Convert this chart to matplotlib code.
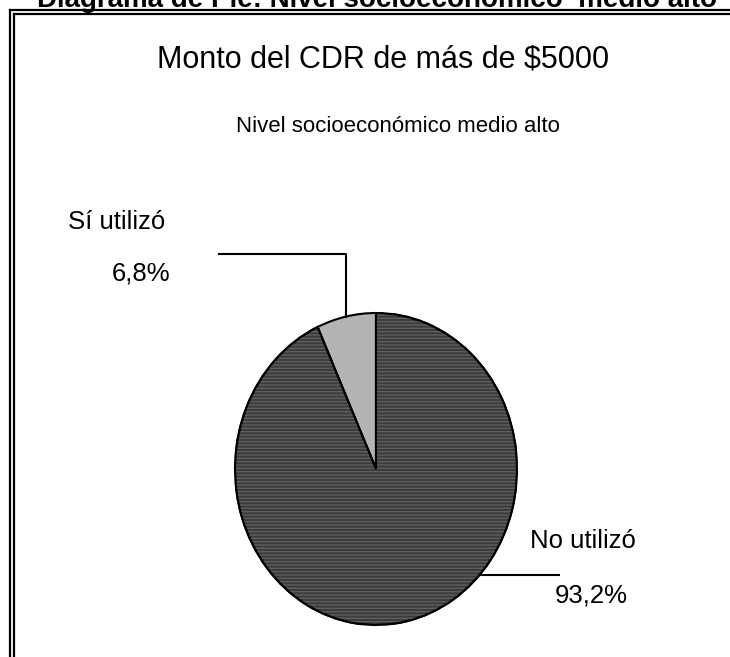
import numpy as np
import matplotlib
matplotlib.use('Agg')
import matplotlib.pyplot as plt
from matplotlib.patches import Wedge
from matplotlib.lines import Line2D

plt.rcParams['font.family'] = ['Liberation Sans', 'DejaVu Sans']
plt.rcParams['hatch.linewidth'] = 1.0

# data
categories = ['Sí utilizó', 'No utilizó']
values = [6.8, 93.2]
value_labels = ['6,8%', '93,2%']
colors = ['#b4b4b4', '#3c3c3c']

heading = 'Diagrama de Pie: Nivel socioeconómico  medio alto'
title = 'Monto del CDR de más de $5000'
subtitle = 'Nivel socioeconómico medio alto'

W, H = 730, 657
fig = plt.figure(figsize=(W / 100, H / 100), dpi=100)


def px(x, y):
    # pixel (from top-left) -> figure fraction
    return x / W, 1 - y / H


# double frame (left + top edges, rest is cut off)
for off in (10, 14):
    fig.add_artist(Line2D([px(off, 0)[0], px(off, 0)[0]], [px(0, off)[1], 0],
                          color='black', lw=1.6, transform=fig.transFigure))
    fig.add_artist(Line2D([px(off, 0)[0], 1], [px(0, off)[1], px(0, off)[1]],
                          color='black', lw=1.6, transform=fig.transFigure))

fig.text(*px(377, 7), heading, ha='center', va='baseline', fontsize=20, fontweight='bold')
fig.text(*px(383, 67), title, ha='center', va='baseline', fontsize=22)
fig.text(*px(398, 132), subtitle, ha='center', va='baseline', fontsize=16)

# pie axes (stretched a bit vertically, like the original)
ax = fig.add_axes([235 / W, 32 / H, 282 / W, 312 / H])
wedges, _ = ax.pie(values, colors=colors, startangle=90, counterclock=True,
                   wedgeprops=dict(edgecolor='black', linewidth=1.5))
# stripe texture on the dark slice
big = wedges[1]
ax.add_patch(Wedge(big.center, big.r, big.theta1, big.theta2, facecolor='none',
                   edgecolor='#5e5e5e', lw=0, hatch='-----'))
ax.add_patch(Wedge(big.center, big.r, big.theta1, big.theta2, facecolor='none',
                   edgecolor='black', lw=1.5))
ax.set_aspect('auto')
ax.set_xlim(-1, 1)
ax.set_ylim(-1, 1)
ax.axis('off')

# leader lines
w = wedges[0]
mid = np.deg2rad((w.theta1 + w.theta2) / 2)
ax.plot([np.cos(mid), np.cos(mid), -1.11], [np.sin(mid), 1.38, 1.38],
        color='black', lw=1.5, clip_on=False)
a = np.deg2rad(-42.6)
ax.plot([np.cos(a), 1.30], [np.sin(a), np.sin(a)], color='black', lw=1.5, clip_on=False)

fig.text(*px(68, 229), categories[0], ha='left', va='baseline', fontsize=18.5)
fig.text(*px(112, 281), value_labels[0], ha='left', va='baseline', fontsize=18.5)
fig.text(*px(530, 548), categories[1], ha='left', va='baseline', fontsize=18.5)
fig.text(*px(555, 602), value_labels[1], ha='left', va='baseline', fontsize=18.5)

plt.savefig('out.png', dpi=100)
plt.close()
